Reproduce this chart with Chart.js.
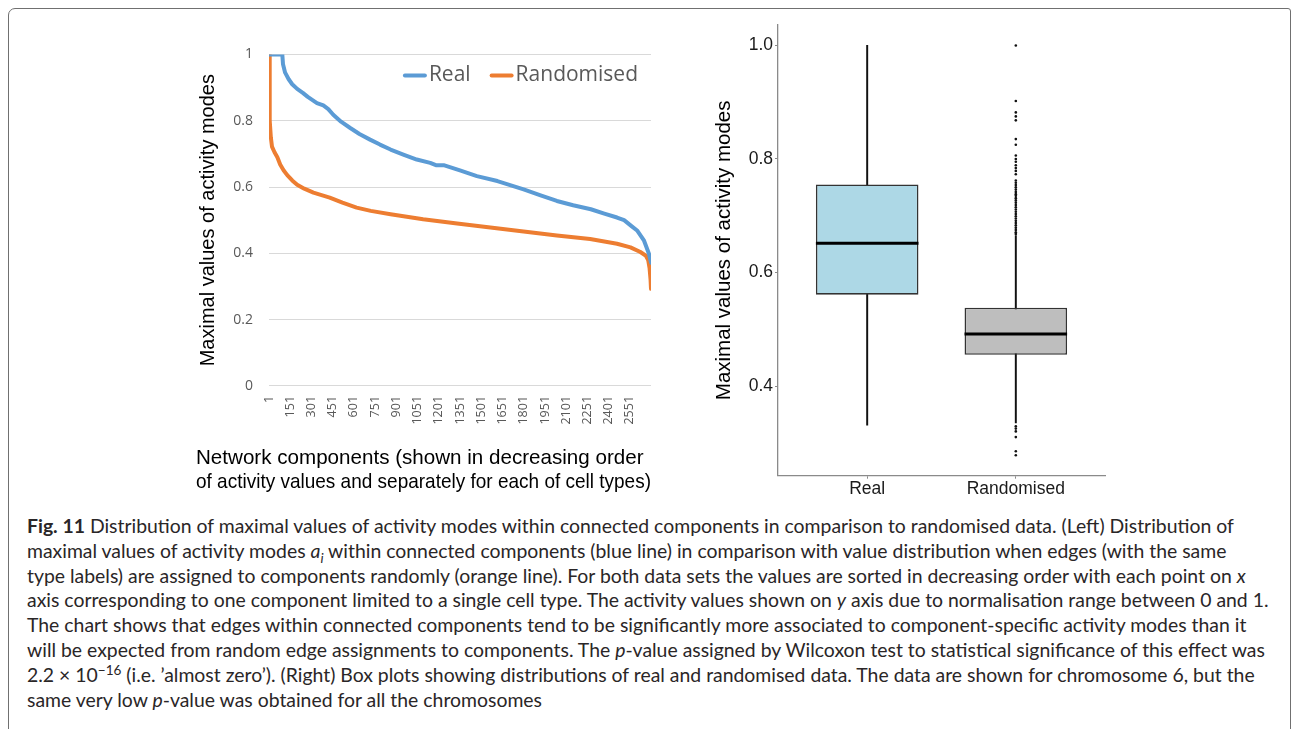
<!DOCTYPE html>
<html>
<head>
<meta charset="utf-8">
<script src="https://cdn.jsdelivr.net/npm/chart.js@4.4.1/dist/chart.umd.min.js"></script>
<style>
  html, body { margin: 0; padding: 0; background: #fff; }
  body { width: 1292px; height: 729px; position: relative; overflow: hidden; }
  #frame {
    position: absolute; left: 8px; top: 8px; width: 1283px; height: 800px;
    box-sizing: border-box; border: 1.5px solid #707070;
    border-top-left-radius: 7px; border-top-right-radius: 3px;
  }
  #lineWrap { position: absolute; left: 189px; top: 30px; width: 476px; height: 470px; }
  #boxWrap { position: absolute; left: 700px; top: 10px; width: 420px; height: 500px; }
  #caption {
    position: absolute; left: 27px; top: 514px;
    font-family: Lato, "Open Sans", sans-serif; font-size: 19.4px; line-height: 24.8px;
    color: #2a2627; white-space: nowrap;
  }
  #caption b { font-weight: 700; }
  #caption sub, #caption sup { font-size: 70%; line-height: 0; }
</style>
</head>
<body>
<div id="frame"></div>
<div id="lineWrap"><canvas id="lineChart" width="476" height="470"></canvas></div>
<div id="boxWrap"><canvas id="boxChart" width="420" height="500"></canvas></div>
<div id="caption">
  <div><b>Fig. 11</b> Distribution of maximal values of activity modes within connected components in comparison to randomised data. (Left) Distribution of</div>
  <div>maximal values of activity modes <i>a<sub>i</sub></i> within connected components (blue line) in comparison with value distribution when edges (with the same</div>
  <div>type labels) are assigned to components randomly (orange line). For both data sets the values are sorted in decreasing order with each point on <i>x</i></div>
  <div>axis corresponding to one component limited to a single cell type. The activity values shown on <i>y</i> axis due to normalisation range between 0 and 1.</div>
  <div>The chart shows that edges within connected components tend to be significantly more associated to component-specific activity modes than it</div>
  <div>will be expected from random edge assignments to components. The <i>p</i>-value assigned by Wilcoxon test to statistical significance of this effect was</div>
  <div>2.2 × 10<sup>−16</sup> (i.e. ’almost zero’). (Right) Box plots showing distributions of real and randomised data. The data are shown for chromosome 6, but the</div>
  <div>same very low <i>p</i>-value was obtained for all the chromosomes</div>
</div>
<script>
// ---- Left panel: sorted maximal activity values per component ----
const realComponents = [1, 95, 100, 115, 140, 165, 200, 240, 275, 340, 385, 420, 455, 510, 575, 640, 715, 785, 860, 950, 1045, 1140, 1180, 1235, 1350, 1470, 1615, 1800, 1920, 2035, 2150, 2275, 2370, 2460, 2510, 2560, 2604, 2651, 2686, 2700];
const realValues     = [1.0, 1.0, 0.97, 0.945, 0.925, 0.91, 0.896, 0.884, 0.872, 0.853, 0.846, 0.835, 0.818, 0.797, 0.778, 0.76, 0.743, 0.728, 0.713, 0.698, 0.683, 0.673, 0.666, 0.666, 0.65, 0.633, 0.618, 0.593, 0.575, 0.558, 0.545, 0.533, 0.52, 0.508, 0.5, 0.483, 0.468, 0.438, 0.398, 0.372];

const randComponents = [1, 4, 8, 14, 22, 40, 60, 80, 105, 130, 165, 200, 250, 315, 430, 520, 620, 720, 860, 1090, 1330, 1565, 1800, 2035, 2270, 2460, 2555, 2625, 2665, 2680, 2690, 2697, 2700];
const randValues     = [1.0, 0.86, 0.8, 0.75, 0.722, 0.705, 0.69, 0.668, 0.65, 0.636, 0.62, 0.607, 0.595, 0.583, 0.568, 0.553, 0.538, 0.528, 0.518, 0.503, 0.49, 0.478, 0.466, 0.454, 0.443, 0.429, 0.418, 0.404, 0.392, 0.38, 0.355, 0.32, 0.293];

const componentTicks = [1, 151, 301, 451, 601, 751, 901, 1051, 1201, 1351, 1501, 1651, 1801, 1951, 2101, 2251, 2401, 2551];
const activityTicks  = [0, 0.2, 0.4, 0.6, 0.8, 1];

// ---- Right panel: box plot summaries ----
const boxCategories = ['Real', 'Randomised'];
const whiskerLow  = [0.331, 0.335];
const quartile1   = [0.561, 0.455];
const medians     = [0.649, 0.489];
const quartile3   = [0.755, 0.538];
const whiskerHigh = [1.0, 0.665];
const randomisedOutliers = [1.0, 0.902, 0.882, 0.875, 0.868, 0.835, 0.825, 0.806, 0.8, 0.795, 0.789, 0.784, 0.779, 0.773,
  0.762, 0.758, 0.754, 0.75, 0.746, 0.742, 0.738, 0.735, 0.731, 0.727, 0.723, 0.719, 0.715, 0.711, 0.707, 0.703, 0.699,
  0.695, 0.691, 0.687, 0.683, 0.679, 0.675, 0.671, 0.668,
  0.329, 0.325, 0.32, 0.31, 0.285, 0.278];
const boxTicks = [0.4, 0.6, 0.8, 1.0];

const toPoints = (xs, ys) => xs.map((x, i) => ({ x, y: ys[i] }));

// Legend drawn inside the plot area, top right
const inlineLegend = {
  id: 'inlineLegend',
  afterDatasetsDraw(chart, args, opts) {
    const { ctx, chartArea } = chart;
    ctx.save();
    ctx.font = opts.font;
    ctx.textBaseline = 'middle';
    const items = chart.data.datasets.map(d => ({ label: d.label, color: d.borderColor, w: ctx.measureText(d.label).width }));
    const total = items.reduce((s, it) => s + opts.lineLen + opts.gap + it.w, 0) + opts.itemGap * (items.length - 1);
    let x = chartArea.right - opts.right - total;
    const y = chartArea.top + opts.top;
    items.forEach(it => {
      ctx.strokeStyle = it.color;
      ctx.lineWidth = 4;
      ctx.lineCap = 'round';
      ctx.beginPath();
      ctx.moveTo(x + 2, y);
      ctx.lineTo(x + opts.lineLen - 2, y);
      ctx.stroke();
      x += opts.lineLen + opts.gap;
      ctx.fillStyle = opts.color;
      ctx.fillText(it.label, x, y);
      x += it.w + opts.itemGap;
    });
    ctx.restore();
  }
};

new Chart(document.getElementById('lineChart'), {
  type: 'line',
  data: {
    datasets: [
      { label: 'Real', data: toPoints(realComponents, realValues), borderColor: '#5b9bd5', borderWidth: 4, pointRadius: 0, tension: 0, borderJoinStyle: 'round', borderCapStyle: 'round' },
      { label: 'Randomised', data: toPoints(randComponents, randValues), borderColor: '#ed7d31', borderWidth: 4, pointRadius: 0, tension: 0, borderJoinStyle: 'round', borderCapStyle: 'round' }
    ]
  },
  options: {
    responsive: false,
    animation: false,
    devicePixelRatio: 1,
    layout: { padding: { left: 7, top: 22.5, right: 14, bottom: 0 } },
    plugins: {
      legend: { display: false },
      tooltip: { enabled: false },
      title: {
        display: true,
        position: 'bottom',
        align: 'start',
        text: ['Network components (shown in decreasing order', 'of activity values and separately for each of cell types)'],
        color: '#000',
        font: { family: '"Liberation Sans", Arial, sans-serif', size: 20.6, weight: 'normal', lineHeight: 1.2 },
        padding: { top: 0, bottom: 5 }
      },
      inlineLegend: { font: '21px "Open Sans", sans-serif', color: '#595959', lineLen: 24, gap: 2, itemGap: 19, right: 13, top: 21 }
    },
    scales: {
      x: {
        type: 'linear',
        min: 1,
        max: 2700,
        afterBuildTicks: s => { s.ticks = componentTicks.map(v => ({ value: v })); },
        afterFit: s => { s.height = 59.6; },
        grid: { display: false, drawTicks: false },
        border: { display: false },
        ticks: { autoSkip: false, maxRotation: 90, minRotation: 90, padding: 10, color: '#595959',
                 font: { family: '"Open Sans", sans-serif', size: 12.5 }, callback: v => String(v) }
      },
      y: {
        min: 0,
        max: 1,
        afterBuildTicks: s => { s.ticks = activityTicks.map(v => ({ value: v })); },
        afterFit: s => { s.width = 73; },
        grid: { color: '#d9d9d9', lineWidth: 1, drawTicks: false },
        border: { display: false },
        ticks: { padding: 16, color: '#595959', font: { family: '"Open Sans", sans-serif', size: 14 },
                 callback: v => String(Math.round(v * 10) / 10) },
        title: { display: true, text: 'Maximal values of activity modes', color: '#000',
                 font: { family: '"Liberation Sans", Arial, sans-serif', size: 20 }, padding: { top: 0, bottom: 0 } }
      }
    }
  },
  plugins: [inlineLegend]
});

// ---- Box plot built from floating bars, thin whisker bars and outlier points ----
const axisGray = '#8a8a8a';
new Chart(document.getElementById('boxChart'), {
  type: 'bar',
  data: {
    datasets: [
      { label: 'median', data: medians.map((m, i) => ({ x: i + 1, y: [m, m] })), backgroundColor: '#000',
        minBarLength: 3, barPercentage: 0.69, categoryPercentage: 1, grouped: false, borderWidth: 0 },
      { label: 'box', data: quartile1.map((q, i) => ({ x: i + 1, y: [q, quartile3[i]] })), backgroundColor: ['#add8e6', '#bebebe'],
        borderColor: '#333', borderWidth: 1.6, borderSkipped: false, barPercentage: 0.69, categoryPercentage: 1, grouped: false },
      { label: 'whisker', data: whiskerLow.map((w, i) => ({ x: i + 1, y: [w, whiskerHigh[i]] })), backgroundColor: '#111',
        barThickness: 1.3, grouped: false, borderWidth: 0 },
      { type: 'scatter', label: 'outliers', data: randomisedOutliers.map(v => ({ x: 2, y: v })),
        pointRadius: 1.3, pointBackgroundColor: '#111', pointBorderWidth: 0 }
    ]
  },
  options: {
    responsive: false,
    animation: false,
    devicePixelRatio: 1,
    layout: { padding: { left: 0, top: 15, right: 15, bottom: 0 } },
    plugins: { legend: { display: false }, tooltip: { enabled: false } },
    scales: {
      x: {
        type: 'linear',
        offset: false,
        min: 0.4,
        max: 2.6,
        afterBuildTicks: s => { s.ticks = boxCategories.map((c, i) => ({ value: i + 1 })); },
        afterFit: s => { s.height = 34.3; },
        grid: { offset: false, drawOnChartArea: false, drawTicks: true, tickLength: 3, color: axisGray },
        border: { display: true, color: axisGray, width: 1.3 },
        ticks: { autoSkip: false, maxRotation: 0, padding: 0, color: '#1a1a1a',
                 font: { family: '"Liberation Sans", Arial, sans-serif', size: 17.5 },
                 callback: v => boxCategories[v - 1] }
      },
      y: {
        min: 0.242,
        max: 1.036,
        afterBuildTicks: s => { s.ticks = boxTicks.map(v => ({ value: v })); },
        afterFit: s => { s.width = 78; },
        grid: { drawOnChartArea: false, drawTicks: true, tickLength: 3, color: axisGray },
        border: { display: true, color: axisGray, width: 1.3 },
        ticks: { padding: 2, color: '#1a1a1a', font: { family: '"Liberation Sans", Arial, sans-serif', size: 17.5 },
                 callback: v => v.toFixed(1) },
        title: { display: true, text: 'Maximal values of activity modes', color: '#000',
                 font: { family: '"Liberation Sans", Arial, sans-serif', size: 20.5 }, padding: { top: 12.5, bottom: 0 } }
      }
    }
  }
});
</script>
</body>
</html>
